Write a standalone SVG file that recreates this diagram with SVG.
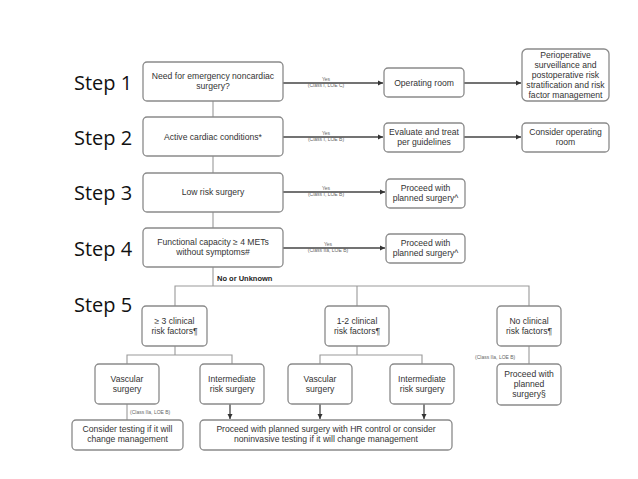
<svg xmlns="http://www.w3.org/2000/svg" width="638" height="479" viewBox="0 0 638 479">
<style>
.box{fill:#fff;stroke:#8a8a8a;stroke-width:1.3}
.t{font-family:"Liberation Sans",Arial,sans-serif;font-size:8.6px;fill:#333;text-anchor:middle}
.step{font-family:"Open Sans","Liberation Sans",sans-serif;font-size:20px;fill:#111}
.yes{font-family:"Liberation Sans",Arial,sans-serif;font-size:5px;fill:#666;text-anchor:middle}
.cl{font-family:"Liberation Sans",Arial,sans-serif;font-size:5px;fill:#666}
.thick{stroke:#444;stroke-width:1.6;fill:none}
.thin{stroke:#999;stroke-width:1.1;fill:none}
.dark{stroke:#333;stroke-width:1.2;fill:none}
</style>
<defs>
<marker id="ah" markerWidth="6" markerHeight="6" refX="5" refY="3" orient="auto" markerUnits="userSpaceOnUse">
<path d="M0,0.5 L5,3 L0,5.5 z" fill="#333"/>
</marker>
</defs>
<rect width="638" height="479" fill="#fff"/>
<g id="labels">
<text class="step" x="74" y="90">Step 1</text>
<text class="step" x="74" y="145">Step 2</text>
<text class="step" x="74" y="200">Step 3</text>
<text class="step" x="74" y="256">Step 4</text>
<text class="step" x="74" y="312">Step 5</text>
</g>
<g id="connectors">
<line class="thin" x1="213" y1="101" x2="213" y2="117"/>
<line class="thin" x1="213" y1="156" x2="213" y2="173"/>
<line class="thin" x1="213" y1="212" x2="213" y2="228"/>
<line class="thin" x1="213" y1="267" x2="213" y2="286"/>
<polyline class="thin" points="175,306 175,286 529,286 529,306"/>
<line class="thin" x1="357" y1="286" x2="357" y2="306"/>
<line class="thin" x1="175" y1="346" x2="175" y2="355"/>
<polyline class="thin" points="127,364 127,355 232,355 232,364"/>
<line class="thin" x1="357" y1="346" x2="357" y2="355"/>
<polyline class="thin" points="320,364 320,355 422,355 422,364"/>
<line class="thin" x1="529" y1="346" x2="529" y2="364"/>
<line class="thin" x1="127" y1="404" x2="127" y2="420"/>
<line class="dark" x1="230" y1="404" x2="230" y2="419" marker-end="url(#ah)"/>
<line class="dark" x1="320" y1="404" x2="320" y2="419" marker-end="url(#ah)"/>
<line class="dark" x1="424" y1="404" x2="424" y2="419" marker-end="url(#ah)"/>
<line class="thick" x1="283" y1="83" x2="383" y2="83" marker-end="url(#ah)"/>
<line class="thick" x1="464" y1="83" x2="521" y2="83" marker-end="url(#ah)"/>
<line class="thick" x1="283" y1="137" x2="383" y2="137" marker-end="url(#ah)"/>
<line class="thick" x1="464" y1="137" x2="521" y2="137" marker-end="url(#ah)"/>
<line class="thick" x1="283" y1="192" x2="385" y2="192" marker-end="url(#ah)"/>
<line class="thick" x1="283" y1="248" x2="385" y2="248" marker-end="url(#ah)"/>
<text class="yes" x="326" y="81">Yes</text>
<text class="yes" x="326" y="87">(Class I, LOE C)</text>
<text class="yes" x="326" y="135">Yes</text>
<text class="yes" x="326" y="141">(Class I, LOE B)</text>
<text class="yes" x="326" y="190">Yes</text>
<text class="yes" x="326" y="196">(Class I, LOE B)</text>
<text class="yes" x="328" y="246">Yes</text>
<text class="yes" x="328" y="252">(Class IIa, LOE B)</text>
<text x="217" y="281" font-family="Liberation Sans,Arial,sans-serif" font-size="7.5" font-weight="bold" fill="#222">No or Unknown</text>
<text class="cl" x="475" y="359">(Class IIa, LOE B)</text>
<text class="cl" x="130" y="414">(Class IIa, LOE B)</text>
</g>
<g id="n1"><rect class="box" x="143" y="62" width="140" height="39" rx="4"/><text class="t" x="213" y="79">Need for emergency noncardiac</text><text class="t" x="213" y="89">surgery?</text></g>
<g id="n2"><rect class="box" x="143" y="117" width="140" height="39" rx="4"/><text class="t" x="213" y="140">Active cardiac conditions*</text></g>
<g id="n3"><rect class="box" x="143" y="173" width="140" height="39" rx="4"/><text class="t" x="213" y="195">Low risk surgery</text></g>
<g id="n4"><rect class="box" x="143" y="228" width="140" height="39" rx="4"/><text class="t" x="213" y="245">Functional capacity ≥ 4 METs</text><text class="t" x="213" y="255">without symptoms#</text></g>
<g id="n5"><rect class="box" x="384" y="68" width="80" height="29" rx="4"/><text class="t" x="424" y="86">Operating room</text></g>
<g id="n6"><rect class="box" x="522" y="49" width="87" height="52" rx="5"/><text class="t" x="565.5" y="58">Perioperative</text><text class="t" x="565.5" y="68">surveillance and</text><text class="t" x="565.5" y="78">postoperative risk</text><text class="t" x="565.5" y="88">stratification and risk</text><text class="t" x="565.5" y="98">factor management</text></g>
<g id="n7"><rect class="box" x="384" y="123" width="80" height="29" rx="4"/><text class="t" x="424" y="135">Evaluate and treat</text><text class="t" x="424" y="145">per guidelines</text></g>
<g id="n8"><rect class="box" x="522" y="123" width="87" height="29" rx="4"/><text class="t" x="565.5" y="135">Consider operating</text><text class="t" x="565.5" y="145">room</text></g>
<g id="n9"><rect class="box" x="386" y="179" width="79" height="29" rx="4"/><text class="t" x="425.5" y="191">Proceed with</text><text class="t" x="425.5" y="201">planned surgery^</text></g>
<g id="n10"><rect class="box" x="386" y="234" width="79" height="29" rx="4"/><text class="t" x="425.5" y="246">Proceed with</text><text class="t" x="425.5" y="256">planned surgery^</text></g>
<g id="n11"><rect class="box" x="142" y="306" width="65" height="40" rx="4"/><text class="t" x="174.5" y="324">≥ 3 clinical</text><text class="t" x="174.5" y="334">risk factors¶</text></g>
<g id="n12"><rect class="box" x="325" y="306" width="64" height="40" rx="4"/><text class="t" x="357" y="324">1-2 clinical</text><text class="t" x="357" y="334">risk factors¶</text></g>
<g id="n13"><rect class="box" x="497" y="306" width="64" height="40" rx="4"/><text class="t" x="529" y="324">No clinical</text><text class="t" x="529" y="334">risk factors¶</text></g>
<g id="n14"><rect class="box" x="95" y="364" width="64" height="40" rx="4"/><text class="t" x="127" y="382">Vascular</text><text class="t" x="127" y="392">surgery</text></g>
<g id="n15"><rect class="box" x="200" y="364" width="64" height="40" rx="4"/><text class="t" x="232" y="382">Intermediate</text><text class="t" x="232" y="392">risk surgery</text></g>
<g id="n16"><rect class="box" x="288" y="364" width="64" height="40" rx="4"/><text class="t" x="320" y="382">Vascular</text><text class="t" x="320" y="392">surgery</text></g>
<g id="n17"><rect class="box" x="390" y="364" width="64" height="40" rx="4"/><text class="t" x="422" y="382">Intermediate</text><text class="t" x="422" y="392">risk surgery</text></g>
<g id="n18"><rect class="box" x="497" y="364" width="64" height="41" rx="4"/><text class="t" x="529" y="377">Proceed with</text><text class="t" x="529" y="387">planned</text><text class="t" x="529" y="397">surgery§</text></g>
<g id="n19"><rect class="box" x="72" y="420" width="111" height="30" rx="4"/><text class="t" x="127.5" y="432">Consider testing if it will</text><text class="t" x="127.5" y="442">change management</text></g>
<g id="n20"><rect class="box" x="200" y="420" width="252" height="30" rx="4"/><text class="t" x="326" y="432">Proceed with planned surgery with HR control or consider</text><text class="t" x="326" y="442">noninvasive testing if it will change management</text></g>
</svg>
